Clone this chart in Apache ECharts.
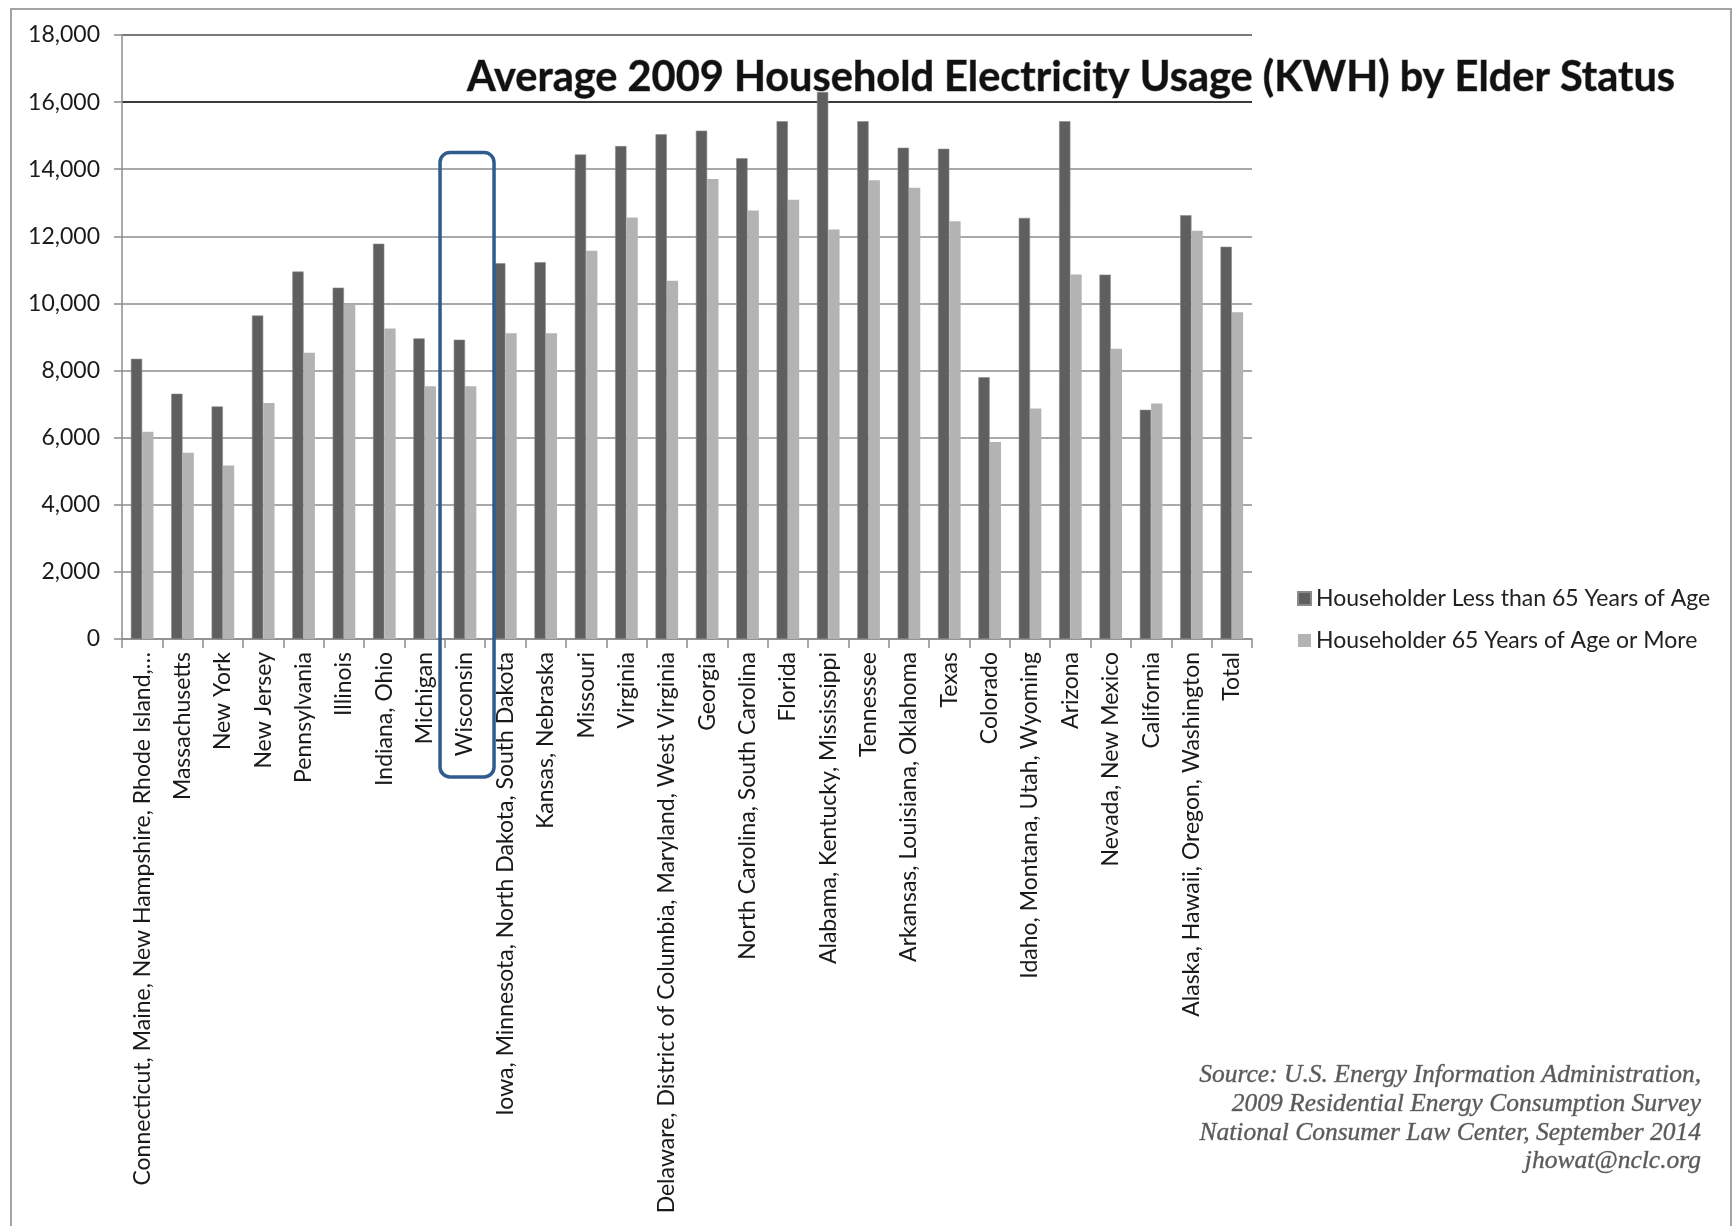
<!DOCTYPE html>
<html>
<head>
<meta charset="utf-8">
<script src="https://cdn.jsdelivr.net/npm/echarts@6/dist/echarts.min.js"></script>
<style>
html,body{margin:0;padding:0;background:#fff;}
#main{width:1734px;height:1226px;}
</style>
</head>
<body>
<div id="main"></div>
<script>
var categories = [
  "Connecticut, Maine, New Hampshire, Rhode Island,\u2026",
  "Massachusetts", "New York", "New Jersey", "Pennsylvania", "Illinois",
  "Indiana, Ohio", "Michigan", "Wisconsin",
  "Iowa, Minnesota, North Dakota, South Dakota", "Kansas, Nebraska",
  "Missouri", "Virginia", "Delaware, District of Columbia, Maryland, West Virginia",
  "Georgia", "North Carolina, South Carolina", "Florida",
  "Alabama, Kentucky, Mississippi", "Tennessee", "Arkansas, Louisiana, Oklahoma",
  "Texas", "Colorado", "Idaho, Montana, Utah, Wyoming", "Arizona",
  "Nevada, New Mexico", "California", "Alaska, Hawaii, Oregon, Washington", "Total"
];
var seriesNames = ["Householder Less than 65 Years of Age", "Householder 65 Years of Age or More"];
var lessThan65 = [8350, 7310, 6930, 9640, 10950, 10470, 11780, 8960, 8920, 11200, 11230, 14440, 14690, 15040, 15150, 14330, 15430, 16300, 15430, 14640, 14610, 7800, 12550, 15430, 10860, 6830, 12630, 11690];
var over65 = [6180, 5550, 5170, 7030, 8530, 9970, 9250, 7530, 7530, 9110, 9110, 11570, 12560, 10680, 13710, 12770, 13090, 12200, 13670, 13450, 12450, 5870, 6870, 10860, 8650, 7020, 12170, 9740];
var yTicks = [0, 2000, 4000, 6000, 8000, 10000, 12000, 14000, 16000, 18000];
var titleText = "Average 2009 Household Electricity Usage (KWH) by Elder Status";
var sourceLines = [
  "Source: U.S. Energy Information Administration,",
  "2009 Residential Energy Consumption Survey",
  "National Consumer Law Center, September 2014",
  "jhowat@nclc.org"
];
var highlightCategory = "Wisconsin";

var FONT = "Lato, 'Open Sans', sans-serif";
var chart = echarts.init(document.getElementById('main'));
var gridColors = yTicks.map(function (v) { return v === 16000 ? '#3a3a3a' : (v === 18000 ? '#7a7a7a' : '#a9a9a9'); });

var option = {
  backgroundColor: '#ffffff',
  animation: false,
  title: {
    text: titleText,
    left: 462, top: 52,
    textStyle: { fontFamily: FONT, fontWeight: 'bold', fontSize: 41.5, color: '#111',
      textBorderColor: '#9a9a9a', textBorderWidth: 1 }
  },
  legend: {
    orient: 'vertical', left: 1292, top: 582,
    itemWidth: 13, itemHeight: 13, itemGap: 19,
    icon: 'rect',
    textStyle: { fontFamily: FONT, fontSize: 23, color: '#222' },
    data: seriesNames
  },
  grid: { left: 122, right: 482, top: 35, bottom: 587, containLabel: false },
  xAxis: {
    type: 'category', data: categories,
    axisLine: { lineStyle: { color: '#8c8c8c', width: 1.5 } },
    axisTick: { show: true, length: 9, lineStyle: { color: '#8c8c8c', width: 1.5 } },
    axisLabel: { interval: 0, rotate: 90, margin: 13, fontFamily: FONT, fontSize: 23, color: '#1a1a1a' }
  },
  yAxis: {
    type: 'value', min: 0, max: 18000, interval: 2000,
    axisLine: { show: true, lineStyle: { color: '#8c8c8c', width: 1.5 } },
    axisTick: { show: true, length: 8, lineStyle: { color: '#8c8c8c', width: 1.5 } },
    axisLabel: { margin: 22, fontFamily: FONT, fontSize: 23, color: '#1a1a1a',
      formatter: function (v) { return v.toLocaleString('en-US'); } },
    splitLine: { show: true, lineStyle: { color: gridColors, width: 1.8 } }
  },
  series: [
    { name: seriesNames[0], type: 'bar', data: lessThan65, barGap: '0%', barCategoryGap: '44%',
      itemStyle: { color: '#5f5f5f', borderColor: '#8a8a8a', borderWidth: 0.6 }, z: 3 },
    { name: seriesNames[1], type: 'bar', data: over65,
      itemStyle: { color: '#b3b3b3' }, z: 3 }
  ]
};
chart.setOption(option);

var cx = chart.convertToPixel({ xAxisIndex: 0 }, highlightCategory);
var topY = chart.convertToPixel({ yAxisIndex: 0 }, 14500);
var graphics = [
  { type: 'rect', silent: true, z: 100,
    shape: { x: 11, y: 9, width: 1720, height: 1260 },
    style: { fill: 'none', stroke: '#a3a3a3', lineWidth: 2 } },
  { type: 'rect', silent: true, z: 101,
    shape: { x: cx - 25, y: topY, width: 54, height: 777 - topY, r: 10 },
    style: { fill: 'none', stroke: '#2f5b8e', lineWidth: 3.5 } }
];
var lineY = [1075, 1104, 1133, 1161];
sourceLines.forEach(function (t, i) {
  graphics.push({ type: 'text', silent: true, z: 101,
    style: { text: t, x: 1701, y: lineY[i], textAlign: 'right', textVerticalAlign: 'middle',
      font: "italic 25.5px 'Liberation Serif', 'DejaVu Serif', serif", fill: '#5a5a5a',
      stroke: '#8a8a8a', lineWidth: 0.5 } });
});
chart.setOption({ graphic: graphics });
</script>
</body>
</html>
